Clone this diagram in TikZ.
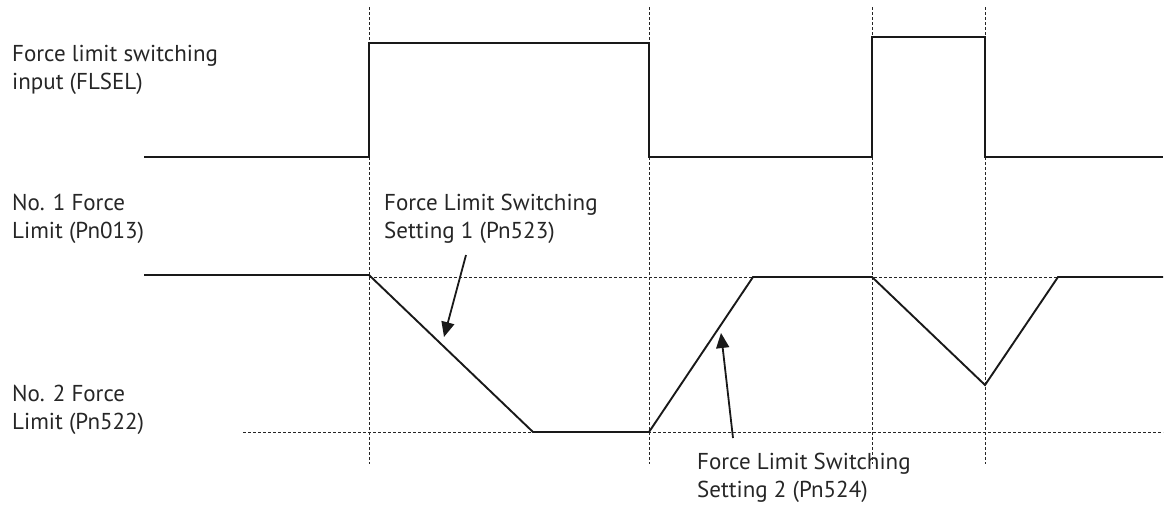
\documentclass[tikz,border=0pt]{standalone}
\usepackage{fontspec}
\setmainfont{PT Sans}
\usetikzlibrary{arrows.meta}
\begin{document}
\begin{tikzpicture}[x=1pt,y=-1pt,
  guide/.style={draw=black!85,line width=0.9pt,dash pattern=on 3pt off 2pt},
  signal/.style={draw=black!90,line width=2.4pt,line join=miter},
  force/.style={draw=black!90,line width=1.9pt,line join=miter},
  lbl/.style={anchor=base west,inner sep=0pt,font=\fontsize{23}{28}\selectfont,text=black!85},
  pointer/.style={draw=black!90,line width=1.8pt,-{Triangle[length=15pt,width=13pt]}}]
\useasboundingbox (0,0) rectangle (1165,504);
% vertical guides
\foreach \x/\n in {369/a,649/b,872/c,985/d}{
  \coordinate (t\n) at (\x,7);
  \coordinate (b\n) at (\x,464);
  \draw[guide] (t\n) -- (b\n);
}
% horizontal guides
\coordinate (hu1) at (369,277);
\coordinate (hu2) at (1163,277);
\coordinate (hl1) at (243,432);
\coordinate (hl2) at (1163,432);
\draw[guide] (hu1) -- (hu2);
\draw[guide] (hl1) -- (hl2);
% input signal
\draw[signal] (144,157) -- (369,157) -- (369,43) -- (649,43) -- (649,157) -- (872,157) -- (872,37) -- (985,37) -- (985,157) -- (1163,157);
% force limit
\draw[force] (144,275) -- (369,275) -- (533,432) -- (649,432) -- (753,277) -- (872,277) -- (985,385) -- (1058,277) -- (1163,277);
% labels
\node[lbl] (l1a) at (12,61) {Force limit switching};
\node[lbl] (l1b) at (12,89) {input (FLSEL)};
\node[lbl] (l2a) at (12,210) {No. 1 Force};
\node[lbl] (l2b) at (12,238) {Limit (Pn013)};
\node[lbl] (l3a) at (12,401) {No. 2 Force};
\node[lbl] (l3b) at (12,429) {Limit (Pn522)};
\node[lbl] (l4a) at (384,210) {Force Limit Switching};
\node[lbl] (l4b) at (384,238) {Setting 1 (Pn523)};
\node[lbl] (l5a) at (697,469) {Force Limit Switching};
\node[lbl] (l5b) at (697,497) {Setting 2 (Pn524)};
% pointers
\coordinate (p1s) at (466,255);
\coordinate (p1e) at (444,337);
\coordinate (p2s) at (733,438);
\coordinate (p2e) at (721,333);
\draw[pointer] (p1s) -- (p1e);
\draw[pointer] (p2s) -- (p2e);
\end{tikzpicture}
\end{document}
